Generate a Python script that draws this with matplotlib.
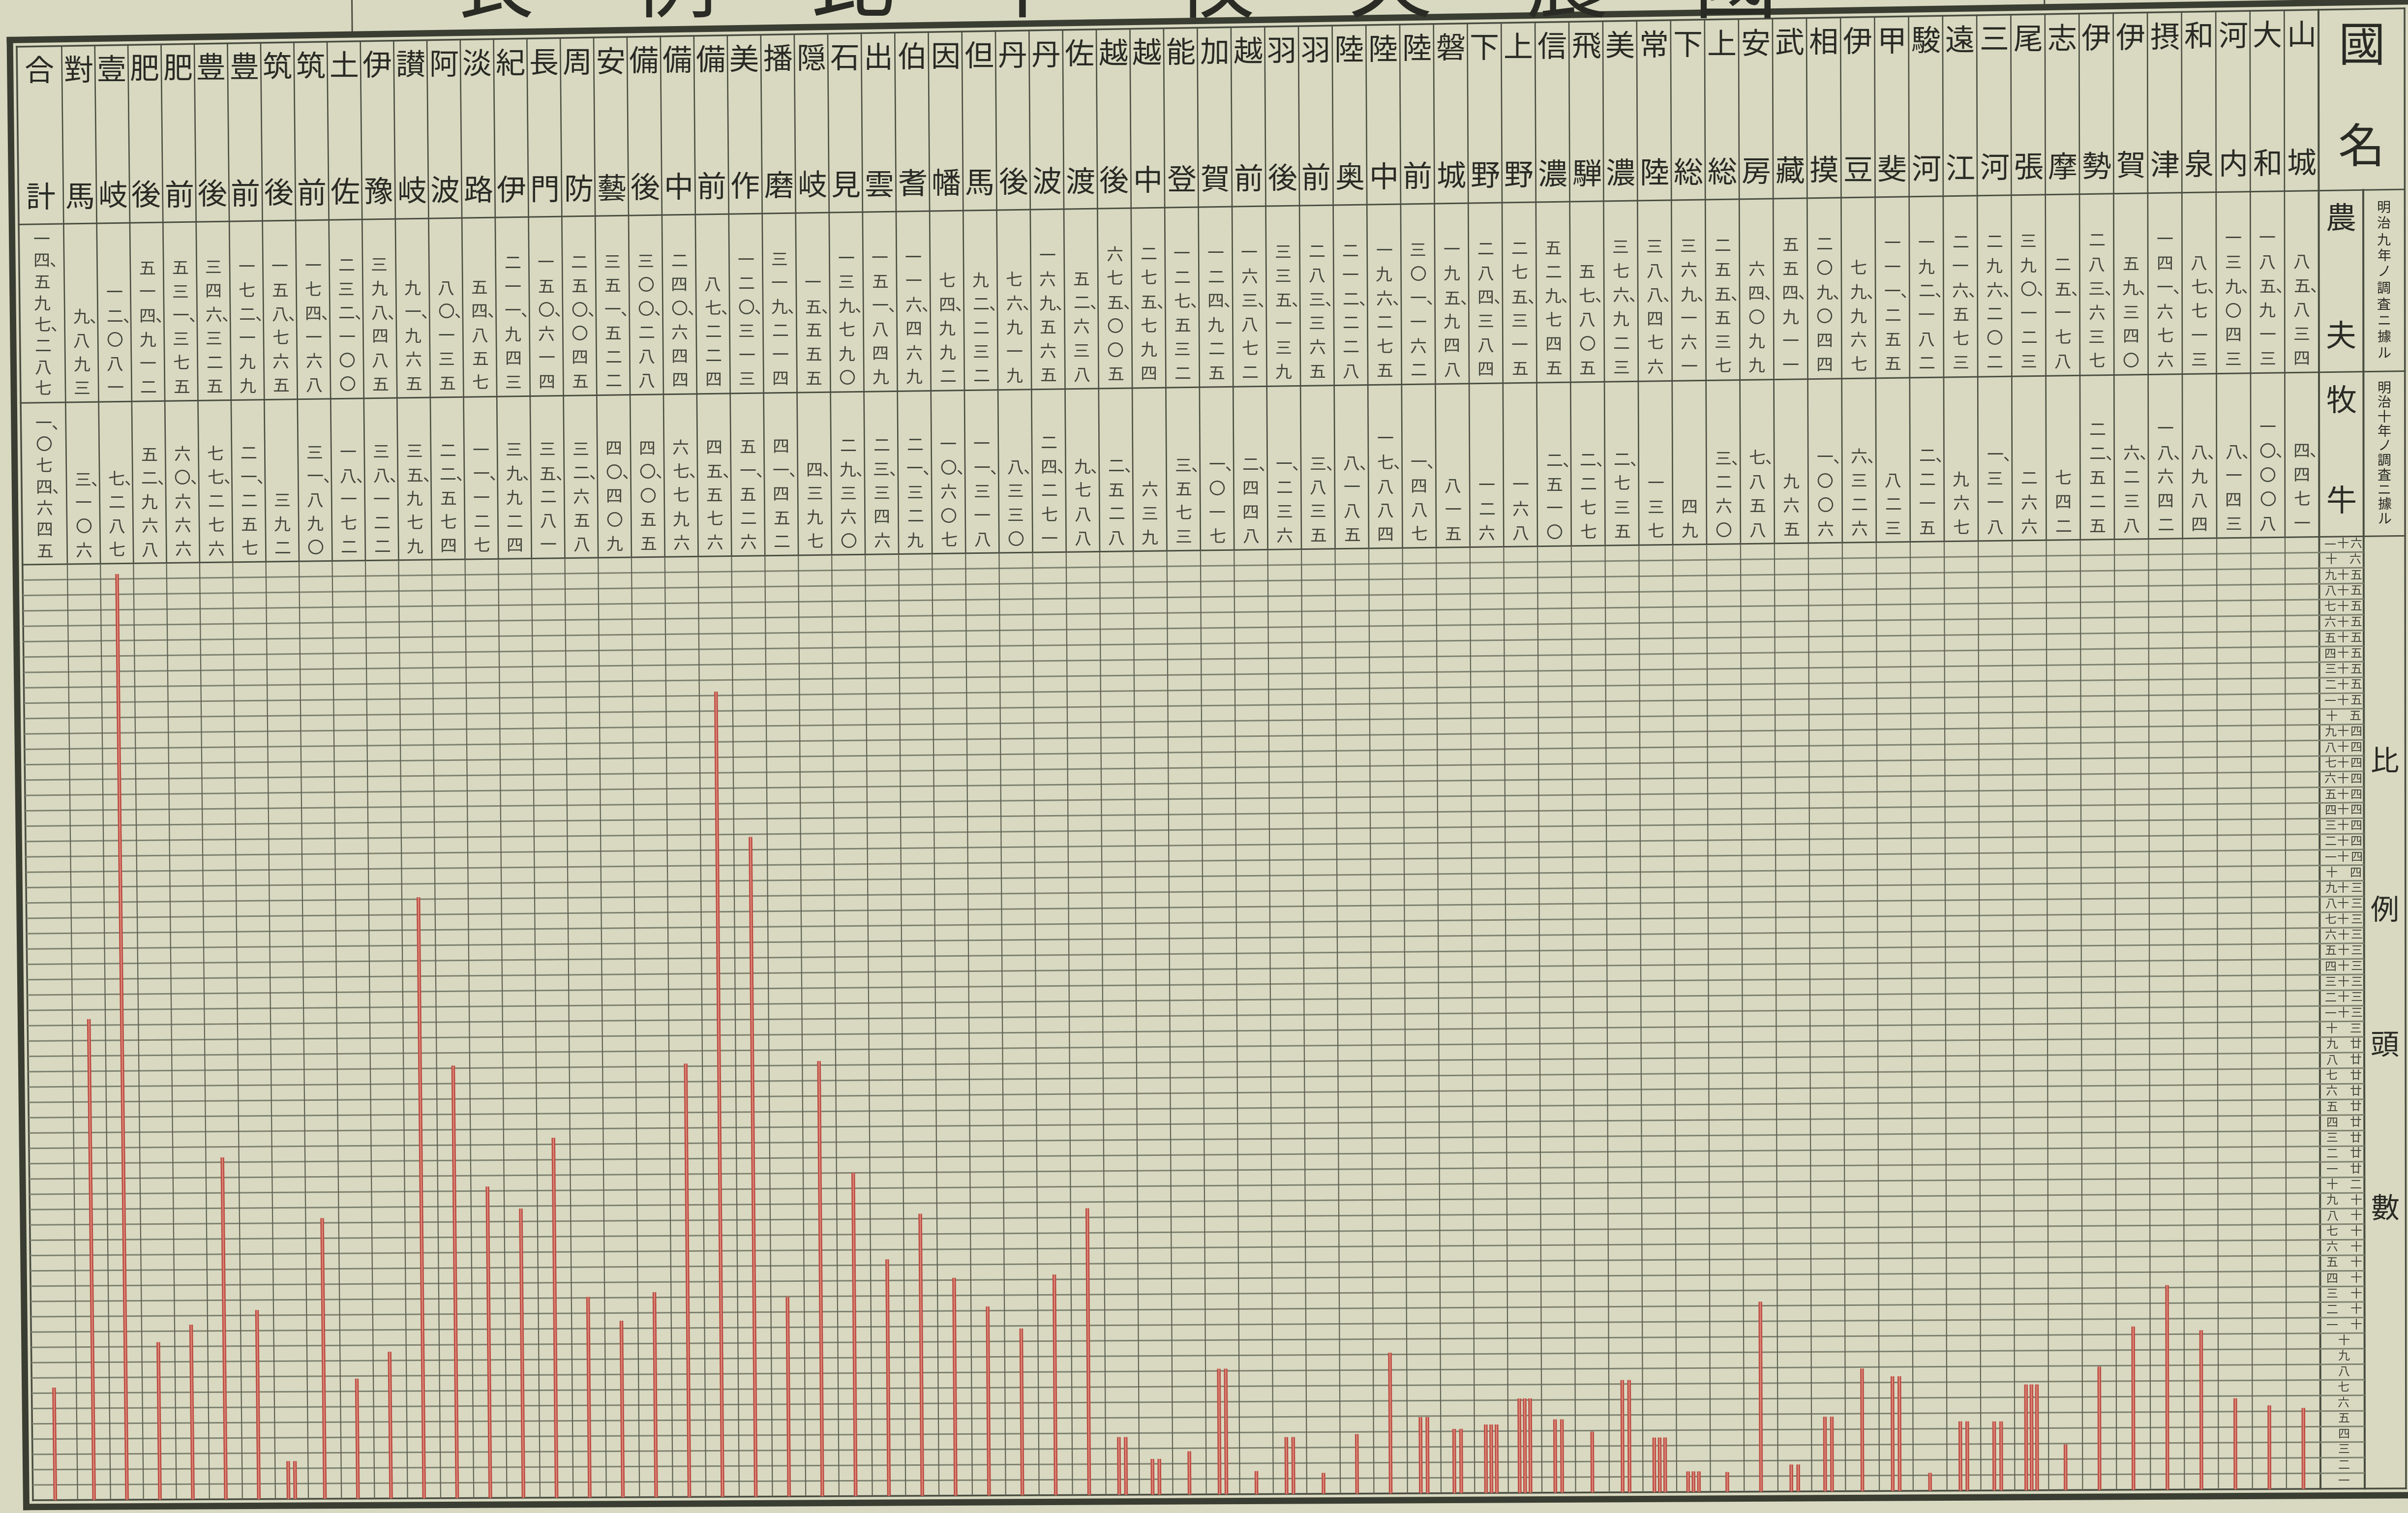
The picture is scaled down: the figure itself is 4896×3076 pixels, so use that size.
import numpy as np
import matplotlib
matplotlib.use("Agg")
import matplotlib.pyplot as plt
from matplotlib.transforms import Transform

plt.rcParams["font.family"] = ["Noto Sans CJK JP", "DejaVu Sans"]

# provinces in drawing order (left to right); the sheet reads right to left
provinces = ["對馬", "壹岐", "肥後", "肥前", "豊後", "豊前", "筑後", "筑前", "土佐", "伊豫",
             "讃岐", "阿波", "淡路", "紀伊", "長門", "周防", "安藝", "備後", "備中", "備前",
             "美作", "播磨", "隠岐", "石見", "出雲", "伯耆", "因幡", "但馬", "丹後", "丹波",
             "佐渡", "越後", "越中", "能登", "加賀", "越前", "羽後", "羽前", "陸奥", "陸中",
             "陸前", "磐城", "下野", "上野", "信濃", "飛騨", "美濃", "常陸", "下総", "上総",
             "安房", "武藏", "相摸", "伊豆", "甲斐", "駿河", "遠江", "三河", "尾張", "志摩",
             "伊勢", "伊賀", "摂津", "和泉", "河内", "大和", "山城"]

# 農夫 (明治九年ノ調査)
farmers = [9893, 12081, 514912, 531375, 346325, 172199, 158765, 174168, 232100, 398485,
           91965, 80135, 54857, 211943, 150614, 250045, 351522, 300288, 240644, 87224,
           120313, 319214, 15555, 139790, 151849, 116469, 74992, 92232, 76919, 169565,
           52638, 675005, 275794, 127532, 124925, 163872, 335139, 283365, 212228, 196275,
           301162, 195948, 284384, 275315, 529745, 57805, 376923, 388476, 369161, 255537,
           64099, 554911, 209044, 79967, 111255, 192182, 216573, 296202, 390123, 25178,
           283637, 59340, 141676, 87713, 139043, 185913, 85834]

# 牧牛 (明治十年ノ調査)
cattle = [3106, 7287, 52968, 60666, 77276, 21257, 392, 31890, 18172, 38122,
          35979, 22574, 11127, 39924, 35281, 32658, 40409, 40055, 67796, 45576,
          51526, 41452, 4397, 29360, 23346, 21329, 10607, 11318, 8330, 24271,
          9788, 2528, 639, 3573, 1017, 2448, 1236, 3835, 8185, 17884,
          1487, 815, 126, 168, 2510, 2277, 2735, 137, 49, 3260,
          7858, 965, 1006, 6326, 823, 2215, 967, 1318, 266, 742,
          22525, 6238, 18642, 8984, 8143, 10008, 4471]

total_name = "合計"
total_farmers = 14597287
total_cattle = 1074645

title_chars = "表例比牛牧夫農國"
title_x = [1000, 1373, 1733, 2076, 2466, 2826, 3185, 3528]
head_name = "國名"
row_heads = ["農夫", "牧牛"]
row_notes = ["明治九年ノ調査ニ據ル", "明治十年ノ調査ニ據ル"]
axis_title = "比例頭數"
scale_rows = 61

# ---- sheet geometry (pixels, y down) ----
W, H = 4896, 3076
X_L, X_TOT, X_NAME, X_LAB, X_R = 34, 127, 4717, 4806, 4889
Y_T, Y_HEAD, Y_R1, Y_R2, Y_BASE = 17, 383, 751, 1085, 3026
col_w = (X_NAME - X_TOT) / len(provinces)
edges = X_TOT + col_w * np.arange(len(provinces) + 1)
centers = (edges[:-1] + edges[1:]) / 2
total_center = (X_L + X_TOT) / 2

PAPER = "#d8d9c0"
INK = "#2a2b25"
NUM_INK = "#44453c"
RULE = "#4a4d41"
GRID = "#7e8270"
VGRID = "#5f6254"
BAR = "#bd4c42"
BAR_HI = "#de8d80"

DIG = "〇一二三四五六七八九"


def kanji_tokens(n):
    toks = []
    for ch in f"{n:,}":
        if ch == ",":
            toks[-1] += "、"
        else:
            toks.append(DIG[int(ch)])
    return toks


def scale_label(k):
    tens, ones = divmod(k, 10)
    if k < 10:
        return DIG[k]
    if k == 10:
        return "十"
    if tens == 1:
        s = "十" + DIG[ones]
    elif tens == 2:
        s = "廿" + DIG[ones] if ones else "二十"
    else:
        s = DIG[tens] + "十" + (DIG[ones] if ones else "")
    return s[::-1]


def homography(src, dst):
    A, b = [], []
    for (x, y), (u, v) in zip(src, dst):
        A.append([x, y, 1, 0, 0, 0, -u * x, -u * y])
        b.append(u)
        A.append([0, 0, 0, x, y, 1, -v * x, -v * y])
        b.append(v)
    h = np.linalg.solve(np.array(A, float), np.array(b, float))
    return np.append(h, 1.0).reshape(3, 3)


class PaperWarp(Transform):
    """Projective warp in display space for the photographed sheet."""
    input_dims = 2
    output_dims = 2

    def __init__(self, M):
        super().__init__()
        self.M = M

    def transform_non_affine(self, values):
        v = np.asarray(values, float)
        one = v.ndim == 1
        v = v.reshape(-1, 2)
        p = np.column_stack([v, np.ones(len(v))]) @ self.M.T
        out = p[:, :2] / p[:, 2:3]
        return out[0] if one else out


def d(x, y):
    return (x, H - y)


M = homography([d(X_L, Y_T), d(X_R, Y_T), d(X_L, Y_BASE), d(X_R, Y_BASE)],
               [d(34, 95), d(4889, 17), d(67, 3050), d(4892, 3026)])
warp = PaperWarp(M)

fig = plt.figure(figsize=(W / 100, H / 100), dpi=100, facecolor=PAPER)
sheet = fig.add_axes([0, 0, 1, 1])
sheet.set_autoscale_on(False)
sheet.set_xlim(0, W)
sheet.set_ylim(H, 0)
sheet.axis("off")
T = sheet.transData + warp


def seg(x0, y0, x1, y1, px, color=RULE):
    sheet.plot([x0, x1], [y0, y1], color=color, lw=px * 0.72, transform=T,
               clip_on=False, solid_capstyle="projecting")


def put(x, y, s, px, color=INK, ha="center"):
    sheet.text(x, y, s, fontsize=px * 0.72, color=color, ha=ha, va="center",
               transform=T, clip_on=False)


# title strip above the table (cut off by the top edge)
for ch, x in zip(title_chars, title_x):
    sheet.text(x, 22, ch, fontsize=170 * 0.72, color=INK, ha="center", va="baseline",
               transform=sheet.transData)
for x in (727, 4168):
    seg(x, -200, x, Y_T - 14, 3)

# frame
o = 14
for (x0, y0, x1, y1) in [(X_L - o, Y_T - o, X_R + o, Y_T - o), (X_L - o, Y_BASE + o, X_R + o, Y_BASE + o),
                         (X_L - o, Y_T - o, X_L - o, Y_BASE + o), (X_R + o, Y_T - o, X_R + o, Y_BASE + o)]:
    seg(x0, y0, x1, y1, 13, "#3a3d32")
for (x0, y0, x1, y1) in [(X_L, Y_T, X_R, Y_T), (X_L, Y_BASE, X_R, Y_BASE),
                         (X_L, Y_T, X_L, Y_BASE), (X_R, Y_T, X_R, Y_BASE)]:
    seg(x0, y0, x1, y1, 3.5)

# table rules
for y in (Y_HEAD, Y_R1, Y_R2):
    seg(X_L, y, X_R, y, 3)
for x in edges[:-1]:
    seg(x, Y_T, x, Y_R2, 2.6)
seg(X_NAME, Y_T, X_NAME, Y_BASE, 4)
seg(X_LAB, Y_HEAD, X_LAB, Y_BASE, 4)

# province names and counts
name_px, num_px = 60, 34
for xc, name in zip(centers, provinces):
    put(xc, 70, name[0], name_px)
    put(xc, 330, name[1], name_px)
put(total_center, 70, total_name[0], name_px)
put(total_center, 330, total_name[1], name_px)


def draw_number(xc, n, y_last, pitch):
    toks = kanji_tokens(n)
    for i, t in enumerate(toks):
        y = y_last - (len(toks) - 1 - i) * pitch
        # digit centred on the column, separator trailing to its lower right
        put(xc - 0.5 * num_px, y, t, num_px, NUM_INK, ha="left")


for xc, f, c in zip(centers, farmers, cattle):
    draw_number(xc, f, Y_R1 - 27, 49)
    draw_number(xc, c, Y_R2 - 26, 49)
draw_number(total_center, total_farmers, Y_R1 - 27, 44)
draw_number(total_center, total_cattle, Y_R2 - 26, 44)

# right-hand headings
xh = (X_NAME + X_R) / 2
put(xh, 95, head_name[0], 95)
put(xh, 300, head_name[1], 95)
xr = (X_NAME + X_LAB) / 2
xn = (X_LAB + X_R) / 2
for (top, bot), heads, note in zip([(Y_HEAD, Y_R1), (Y_R1, Y_R2)], row_heads, row_notes):
    put(xr, top + 60, heads[0], 62)
    put(xr, bot - 70, heads[1], 62)
    pitch = (bot - top - 40) / len(note)
    for i, ch in enumerate(note):
        put(xn, top + 20 + pitch * (i + 0.5), ch, 28)
for ch, y in zip(axis_title, [1545, 1848, 2123, 2457]):
    put(xn, y, ch, 58)

# chart: cattle per hundred farmers
chart = fig.add_axes([X_L / W, (H - Y_BASE) / H, (X_LAB - X_L) / W, (Y_BASE - Y_R2) / H])
chart.set_autoscale_on(False)
chart.set_xlim(X_L, X_LAB)
chart.set_ylim(0, scale_rows)
chart.axis("off")
TC = chart.transData + warp

chart.hlines(np.arange(1, scale_rows), X_L, X_LAB, colors=GRID, lw=3.0 * 0.72,
             transform=TC, clip_on=False)
chart.vlines(edges[:-1], 0, scale_rows, colors=VGRID, lw=2.2 * 0.72,
             transform=TC, clip_on=False)

# scale numbers, one per row
label_x = {1: [4764], 2: [4741, 4789], 3: [4739, 4764, 4791]}
for k in range(1, scale_rows + 1):
    s = scale_label(k)
    for ch, x in zip(s, label_x[len(s)]):
        chart.text(x, k - 0.5, ch, fontsize=24 * 0.72, color=NUM_INK, ha="center",
                   va="center", transform=TC, clip_on=False)

# bars: single line per 100 farmers, double per 1,000, triple per 10,000
ratio = np.array(cattle + [total_cattle]) / np.array(farmers + [total_farmers]) * 100
xs = np.append(centers, total_center)
n_lines = np.where(ratio >= 1, 1, np.where(ratio >= 0.1, 2, 3))
heights = ratio * 10.0 ** (n_lines - 1)
offsets = {1: [0.0], 2: [-7.0, 7.0], 3: [-11.0, 0.0, 11.0]}
bx, bh = [], []
for x, h, n in zip(xs, heights, n_lines):
    for dx in offsets[n]:
        bx.append(x + dx)
        bh.append(h)
chart.vlines(bx, 0, bh, colors=BAR, lw=7.5 * 0.72, transform=TC, clip_on=False)
chart.vlines(bx, 0, bh, colors=BAR_HI, lw=2.2 * 0.72, transform=TC, clip_on=False)

fig.savefig("out.png", dpi=100, facecolor=PAPER)
